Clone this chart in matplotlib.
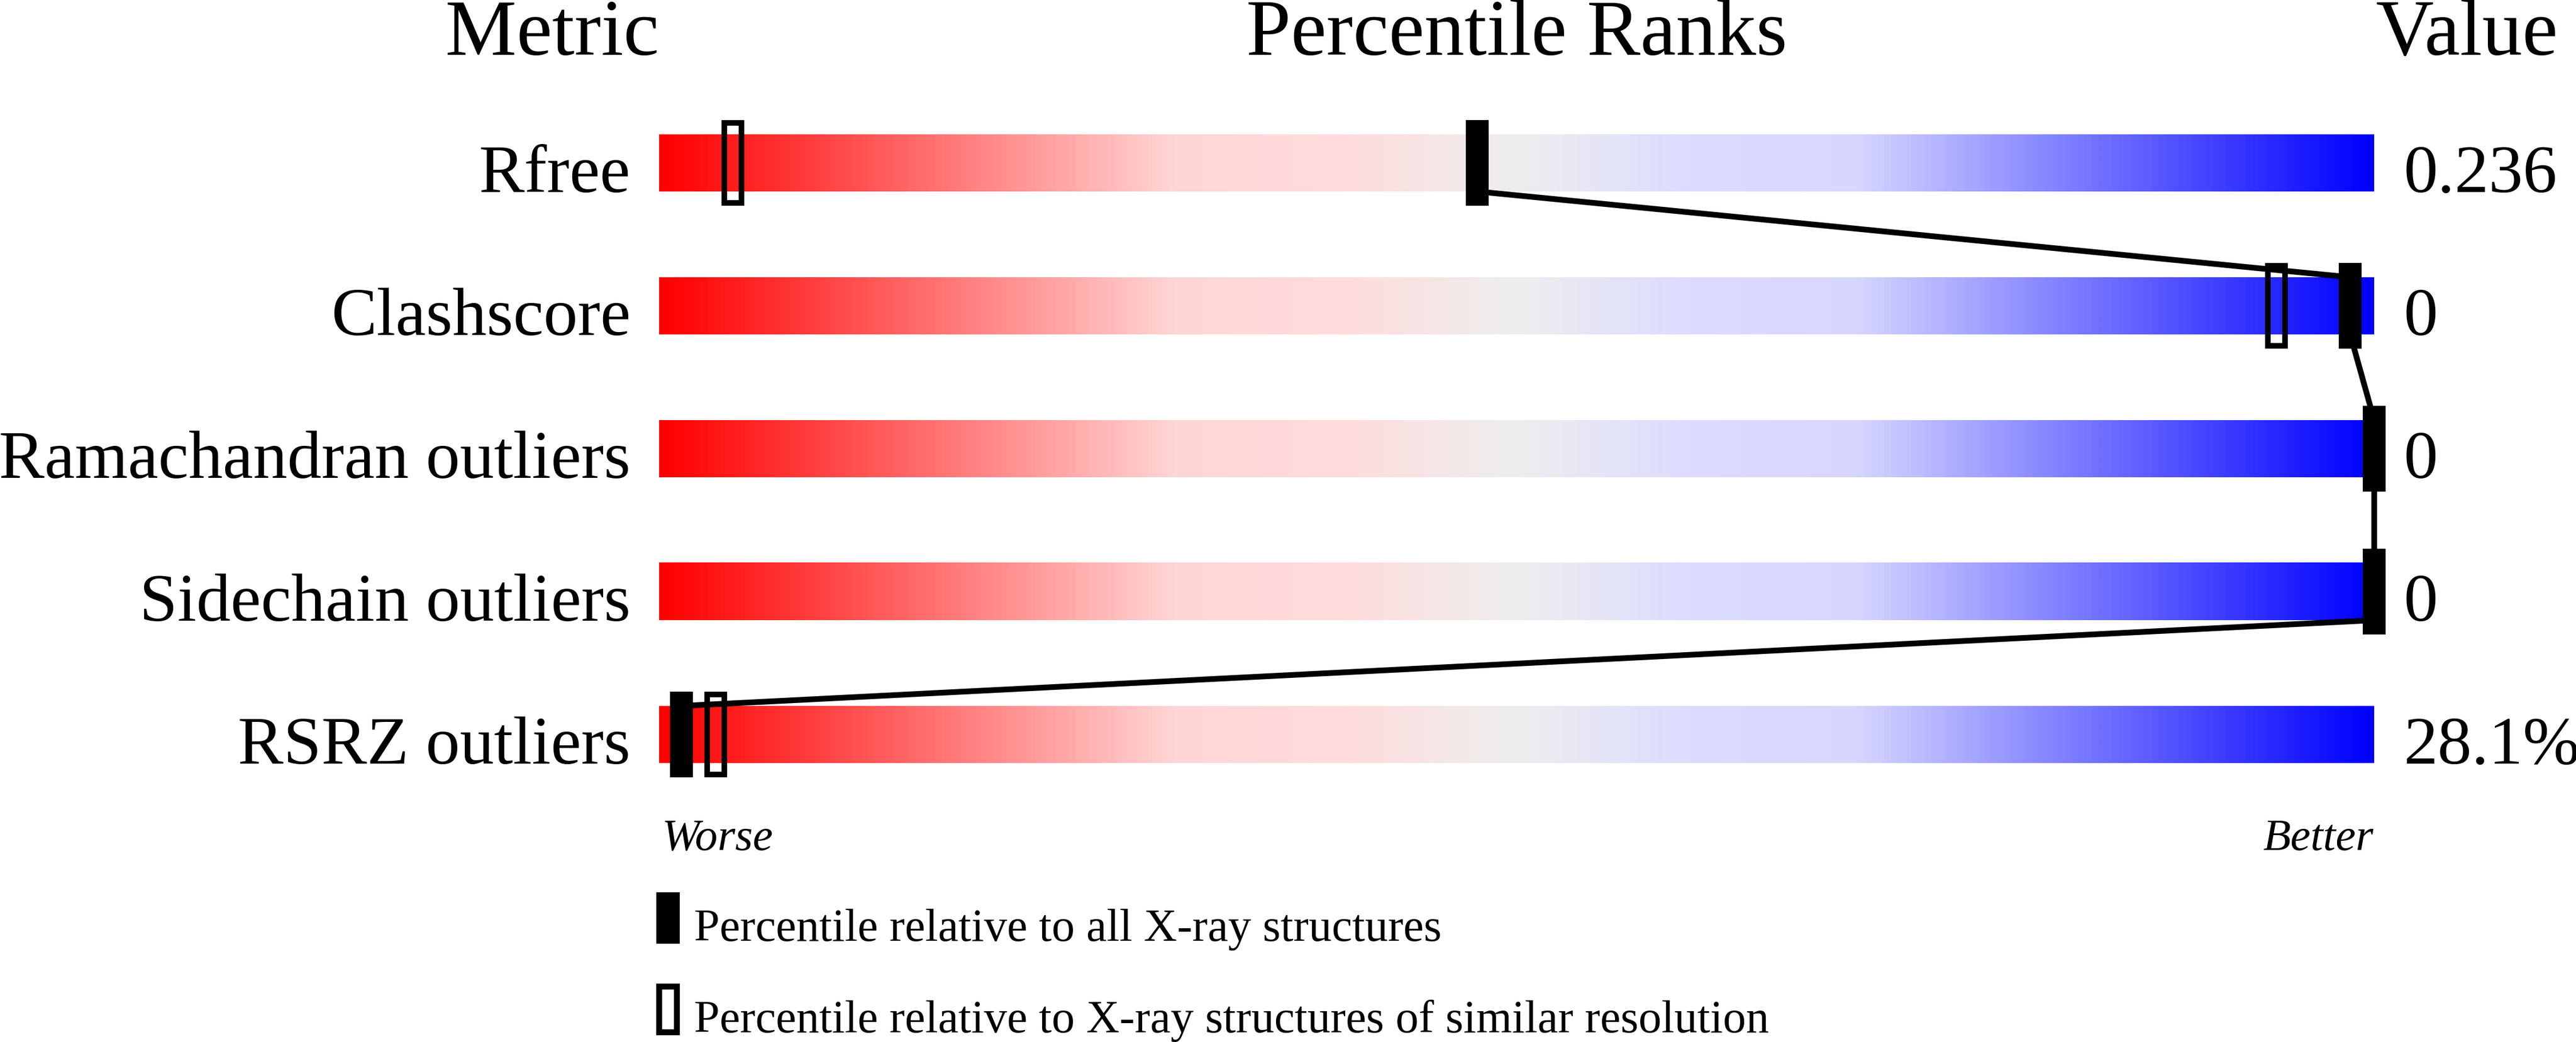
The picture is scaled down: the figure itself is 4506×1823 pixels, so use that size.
import numpy as np
import matplotlib
matplotlib.use("Agg")
import matplotlib.pyplot as plt
from matplotlib.colors import LinearSegmentedColormap
from matplotlib.patches import Rectangle

metrics = ["Rfree", "Clashscore", "Ramachandran outliers", "Sidechain outliers", "RSRZ outliers"]
values = ["0.236", "0", "0", "0", "28.1%"]
pct_all = [47.7, 98.6, 100, 100, 1.3]          # percentile vs all X-ray structures
pct_similar = [4.3, 94.3, None, None, 3.3]     # percentile vs similar resolution
legend_labels = ["Percentile relative to all X-ray structures",
                 "Percentile relative to X-ray structures of similar resolution"]

plt.rcParams["font.family"] = ["Liberation Serif", "DejaVu Serif"]

W, H, DPI = 4506, 1824, 100
fig = plt.figure(figsize=(W / DPI, H / DPI), dpi=DPI)
ax = fig.add_axes([0, 0, 1, 1])
# x in percentile units: 0..100 spans the bar (30 px per unit, bar starts at 1153 px)
ax.set_xlim(-1153 / 30, (W - 1153) / 30)
# y in row units: row centres 250 px apart, first at 286 px from the top
ax.set_ylim((H - 286) / 250, -286 / 250)
ax.axis("off")

cmap = LinearSegmentedColormap.from_list("slider", [
    (0.0, "#ff0000"), (0.3, "#ffd6d6"), (0.4, "#ffdcdc"), (0.5, "#eeeeee"),
    (0.6, "#dcdcff"), (0.7, "#d6d6ff"), (1.0, "#0000ff")])
grad = np.linspace(0, 1, 512).reshape(1, -1)

bar_h = 0.4
mk_w, mk_h = 40 / 30, 0.6
for i, name in enumerate(metrics):
    ax.imshow(grad, cmap=cmap, aspect="auto", interpolation="bilinear",
              extent=(0, 100, i + bar_h / 2, i - bar_h / 2), zorder=1)
    ax.text(-50 / 30, i + bar_h / 2, name, ha="right", va="baseline", fontsize=86)
    ax.text(101.73, i + bar_h / 2, values[i], ha="left", va="baseline", fontsize=86)

# connecting line between the filled markers (bar bottom -> next bar top)
for i in range(len(metrics) - 1):
    ax.plot([pct_all[i], pct_all[i + 1]], [i + bar_h / 2, i + 1 - bar_h / 2],
            color="black", lw=7.2, solid_capstyle="butt", zorder=2)

for i in range(len(metrics)):
    p = pct_similar[i]
    if p is not None:
        ax.add_patch(Rectangle((p - 0.99 / 2, i - 0.56 / 2), 0.99, 0.56,
                               facecolor="none", edgecolor="black", lw=7, zorder=3))
    ax.add_patch(Rectangle((pct_all[i] - mk_w / 2, i - mk_h / 2), mk_w, mk_h,
                           facecolor="black", edgecolor="none", zorder=4))

# headers
ax.text(0, -0.76, "Metric", ha="right", va="baseline", fontsize=101)
ax.text(50, -0.76, "Percentile Ranks", ha="center", va="baseline", fontsize=101)
ax.text(100.07, -0.76, "Value", ha="left", va="baseline", fontsize=101)

ax.text(0.15, 4.804, "Worse", ha="left", va="baseline", fontsize=57, style="italic")
ax.text(99.97, 4.804, "Better", ha="right", va="baseline", fontsize=57, style="italic")

# legend
ax.add_patch(Rectangle((-0.17, 5.282 - 0.18), 1.37, 0.36, facecolor="black", edgecolor="none"))
ax.add_patch(Rectangle((0.0, 5.922 - 0.16), 1.03, 0.32, facecolor="none", edgecolor="black", lw=7.5))
ax.text(2.03, 5.44, legend_labels[0], ha="left", va="baseline", fontsize=58)
ax.text(2.03, 6.08, legend_labels[1], ha="left", va="baseline", fontsize=58)

fig.savefig("out.png", dpi=DPI)
